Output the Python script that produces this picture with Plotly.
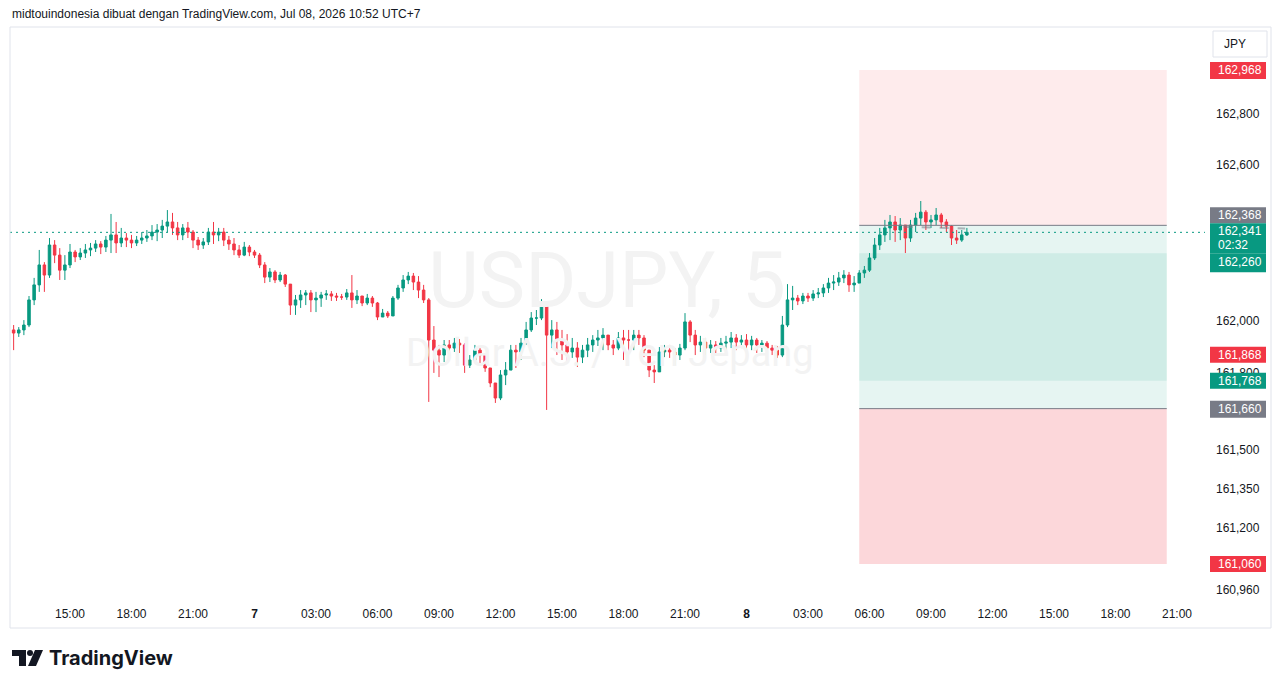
import pandas as pd
import plotly.graph_objects as go

# ---------------- data (USDJPY, 15-minute candles) ----------------
first_open = 161.964
closes = [161.952,161.964,161.983,162.080,162.138,162.215,162.176,162.292,162.253,162.195,
          162.215,162.265,162.246,162.261,162.273,162.280,162.296,162.284,162.311,162.331,
          162.300,162.319,162.311,162.300,162.311,162.319,162.327,162.342,162.350,162.365,
          162.381,162.358,162.331,162.358,162.342,162.311,162.292,162.304,162.342,162.331,
          162.342,162.311,162.296,162.273,162.253,162.284,162.265,162.253,162.215,162.168,
          162.188,162.157,162.176,162.141,162.060,162.080,162.099,162.107,162.080,162.087,
          162.099,162.103,162.095,162.091,162.091,162.107,162.080,162.095,162.068,162.087,
          162.068,162.014,162.029,162.018,162.087,162.126,162.157,162.172,162.149,162.118,
          162.080,161.925,161.886,161.867,161.906,161.894,161.913,161.906,161.828,161.848,
          161.886,161.867,161.817,161.759,161.701,161.790,161.809,161.886,161.879,161.913,
          161.964,162.010,162.010,162.060,161.944,161.964,161.925,161.906,161.879,161.894,
          161.859,161.886,161.906,161.925,161.933,161.944,161.906,161.894,161.933,161.925,
          161.925,161.944,161.933,161.886,161.809,161.802,161.879,161.886,161.879,161.867,
          161.894,161.995,161.944,161.906,161.917,161.894,161.906,161.894,161.913,161.917,
          161.933,161.917,161.925,161.906,161.925,161.906,161.913,161.894,161.886,161.867,
          161.983,162.080,162.087,162.076,162.095,162.087,162.103,162.107,162.126,162.145,
          162.149,162.165,162.176,162.138,162.145,162.184,162.195,162.242,162.292,162.331,
          162.358,162.381,162.350,162.369,162.319,162.369,162.396,162.419,162.381,162.389,
          162.408,162.381,162.365,162.319,162.311,162.331,162.341]
highs = [161.983,161.975,162.002,162.095,162.165,162.273,162.226,162.319,162.311,162.280,
         162.253,162.296,162.273,162.280,162.296,162.300,162.311,162.307,162.327,162.412,
         162.381,162.358,162.338,162.331,162.327,162.342,162.350,162.369,162.373,162.389,
         162.427,162.416,162.381,162.373,162.381,162.350,162.323,162.319,162.358,162.381,
         162.358,162.358,162.327,162.319,162.292,162.304,162.292,162.273,162.261,162.226,
         162.203,162.195,162.188,162.180,162.138,162.099,162.118,162.118,162.118,162.111,
         162.111,162.118,162.114,162.107,162.103,162.122,162.176,162.118,162.087,162.103,
         162.095,162.072,162.045,162.037,162.095,162.138,162.176,162.188,162.184,162.172,
         162.138,162.087,161.979,161.906,161.925,161.925,161.933,161.929,161.913,161.867,
         161.906,161.894,161.867,161.817,161.751,161.809,161.840,161.906,161.906,161.933,
         161.995,162.033,162.041,162.083,162.072,162.002,161.995,161.964,161.948,161.933,
         161.917,161.906,161.933,161.944,161.964,161.971,161.944,161.925,161.956,161.964,
         161.964,161.964,161.964,161.944,161.886,161.828,161.898,161.906,161.906,161.894,
         161.910,162.029,162.002,161.964,161.941,161.933,161.925,161.921,161.933,161.941,
         161.956,161.948,161.944,161.948,161.941,161.933,161.925,161.921,161.906,161.902,
         162.018,162.141,162.134,162.099,162.107,162.107,162.118,162.126,162.141,162.165,
         162.176,162.188,162.195,162.188,162.172,162.195,162.211,162.261,162.319,162.358,
         162.389,162.408,162.404,162.396,162.369,162.389,162.416,162.462,162.427,162.408,
         162.435,162.416,162.392,162.369,162.350,162.350,162.358]
lows = [161.886,161.937,161.944,161.975,162.060,162.111,162.111,162.165,162.222,162.157,
        162.157,162.203,162.226,162.234,162.242,162.249,162.265,162.257,162.265,162.261,
        162.261,162.284,162.284,162.280,162.288,162.296,162.304,162.311,162.307,162.319,
        162.342,162.331,162.311,162.311,162.319,162.280,162.273,162.277,162.292,162.296,
        162.307,162.288,162.273,162.253,162.242,162.249,162.249,162.242,162.203,162.145,
        162.149,162.145,162.149,162.130,162.022,162.022,162.049,162.060,162.033,162.033,
        162.053,162.080,162.076,162.076,162.080,162.080,162.049,162.064,162.056,162.060,
        162.053,162.002,162.014,162.010,162.018,162.080,162.111,162.141,162.118,162.087,
        162.068,161.686,161.798,161.782,161.840,161.863,161.879,161.875,161.798,161.817,
        161.840,161.828,161.802,161.743,161.682,161.693,161.751,161.809,161.817,161.848,
        161.906,161.956,161.983,162.002,161.655,161.894,161.867,161.848,161.840,161.856,
        161.821,161.836,161.859,161.879,161.902,161.886,161.886,161.867,161.886,161.848,
        161.879,161.886,161.906,161.859,161.782,161.759,161.802,161.859,161.856,161.828,
        161.848,161.886,161.917,161.867,161.879,161.867,161.875,161.875,161.879,161.886,
        161.894,161.886,161.894,161.886,161.886,161.875,161.879,161.875,161.867,161.856,
        161.859,161.975,162.041,162.060,162.064,162.072,162.076,162.087,162.091,162.107,
        162.118,162.134,162.145,162.111,162.111,162.149,162.165,162.188,162.234,162.273,
        162.304,162.311,162.304,162.311,162.261,162.304,162.342,162.369,162.350,162.358,
        162.369,162.358,162.342,162.292,162.296,162.304,162.327]
opens = [first_open] + closes[:-1]
highs = [max(h, o, c) for h, o, c in zip(highs, opens, closes)]
lows = [min(l, o, c) for l, o, c in zip(lows, opens, closes)]
times = pd.date_range("2026-07-06 12:15", periods=len(closes), freq="15min")

# time axis
tick_times = pd.date_range("2026-07-06 15:00", "2026-07-08 21:00", freq="3h")
tick_texts = ["15:00", "18:00", "21:00", "<b>7</b>", "03:00", "06:00", "09:00", "12:00",
              "15:00", "18:00", "21:00", "<b>8</b>", "03:00", "06:00", "09:00", "12:00",
              "15:00", "18:00", "21:00"]
# price axis (ticks hidden behind the price labels are left out)
price_ticks = [162.800, 162.600, 162.000, 161.800, 161.500, 161.350, 161.200, 160.960]

# position tools (short on top, long below)
tool_start, tool_end = "2026-07-08 05:30", "2026-07-08 20:30"
short_stop, short_entry, short_target = 162.968, 162.368, 161.768
long_target, long_entry, long_stop = 162.260, 161.660, 161.060
alert_level = 161.868
last_price = closes[-1]
countdown = "02:32"

UP, DOWN, GRAY = "#089981", "#f23645", "#787b86"

# ---------------- pixel helpers for page furniture ----------------
W, H = 1281, 688
L, R, T, B = 10, 1205, 28, 600
def px(x):
    return (x - L) / (R - L)
def py(y):
    return (B - y) / (B - T)

x_left = pd.Timestamp("2026-07-06 15:00") - pd.Timedelta(hours=60 / 20.5)
x_right = pd.Timestamp("2026-07-06 15:00") + pd.Timedelta(hours=(R - 70) / 20.5)
y_low = 162.968 - (B - 70) / 258.9
y_high = 162.968 + (70 - T) / 258.9

def fmt(v):
    return f"{v:.3f}".replace(".", ",")

fig = go.Figure()

# watermark (drawn below candles)
fig.add_trace(go.Scatter(
    x=[pd.Timestamp("2026-07-07 17:12"), pd.Timestamp("2026-07-07 17:20")],
    y=[162.126, 161.863], mode="text",
    text=["USDJPY, 5", "Dollar A.S. / Yen Jepang"],
    textfont=dict(size=[78, 38], color="#f3f3f3", family="Roboto"),
    hoverinfo="skip", cliponaxis=False, showlegend=False))

fig.add_trace(go.Candlestick(
    x=times, open=opens, high=highs, low=lows, close=closes,
    increasing=dict(line=dict(color=UP, width=1), fillcolor=UP),
    decreasing=dict(line=dict(color=DOWN, width=1), fillcolor=DOWN),
    whiskerwidth=0, hoverinfo="skip", showlegend=False))

shapes = []
def zone(y0, y1, color):
    shapes.append(dict(type="rect", xref="x", yref="y", x0=tool_start, x1=tool_end,
                       y0=y0, y1=y1, fillcolor=color, line=dict(width=0), layer="below"))
zone(short_entry, short_stop, "rgba(242,54,69,0.10)")
zone(short_target, short_entry, "rgba(8,153,129,0.10)")
zone(long_entry, long_target, "rgba(8,153,129,0.10)")
zone(long_stop, long_entry, "rgba(242,54,69,0.20)")
for lvl in (short_entry, long_entry):
    shapes.append(dict(type="line", xref="x", yref="y", x0=tool_start, x1=tool_end,
                       y0=lvl, y1=lvl, line=dict(color=GRAY, width=1)))
shapes.append(dict(type="line", xref="x", yref="y", x0="2026-07-08 07:40", x1="2026-07-08 10:40",
                   y0=162.362, y1=162.356, line=dict(color="rgba(120,123,134,0.55)", width=2, dash="dash")))
# last price dotted line
shapes.append(dict(type="line", xref="paper", yref="y", x0=0, x1=1, y0=last_price, y1=last_price,
                   line=dict(color=UP, width=1, dash="2px,4px")))
# chart frame
shapes.append(dict(type="rect", xref="paper", yref="paper", x0=px(10), x1=px(1271),
                   y0=py(628), y1=py(27), line=dict(color="#e0e3eb", width=1),
                   fillcolor="rgba(0,0,0,0)", layer="above"))
# JPY button
shapes.append(dict(type="rect", xref="paper", yref="paper", x0=px(1213), x1=px(1267),
                   y0=py(57), y1=py(31), line=dict(color="#e0e3eb", width=1),
                   fillcolor="white", layer="above"))

annotations = []
# price labels on the axis: (price, colour, box pixel offsets, text lines with y shifts)
labels = [
    (short_stop, DOWN, (-9, 8), [(fmt(short_stop), 0)]),
    (short_entry, GRAY, (2, 18), [(fmt(short_entry), 10)]),
    (last_price, UP, (-21, 9), [(fmt(last_price), 1), (countdown, -13)]),
    (long_target, UP, (-19, 0), [(fmt(long_target), -9)]),
    (alert_level, DOWN, (-8, 8), [(fmt(alert_level), 0)]),
    (short_target, UP, (-8, 8), [(fmt(short_target), 0)]),
    (long_entry, GRAY, (-9, 8), [(fmt(long_entry), 0)]),
    (long_stop, DOWN, (-8, 8), [(fmt(long_stop), 0)]),
]
for price, col, (o0, o1), lines in labels:
    shapes.append(dict(type="rect", xref="paper", yref="y", ysizemode="pixel", yanchor=price,
                       x0=px(1210), x1=px(1266), y0=o0, y1=o1, fillcolor=col,
                       line=dict(width=0), layer="above"))
    for txt, sh in lines:
        annotations.append(dict(xref="paper", yref="y", x=px(1216), y=price, yshift=sh,
                                text=txt, showarrow=False, xanchor="left", yanchor="middle",
                                font=dict(color="white", size=12, family="Liberation Sans")))

annotations.append(dict(xref="paper", yref="paper", x=px(1222), y=py(44), text="JPY",
                        showarrow=False, xanchor="left", yanchor="middle",
                        font=dict(color="#131722", size=12, family="Liberation Sans")))
annotations.append(dict(xref="paper", yref="paper", x=px(10), y=py(14),
                        text="midtouindonesia dibuat dengan TradingView.com, Jul 08, 2026 10:52 UTC+7",
                        showarrow=False, xanchor="left", yanchor="middle",
                        font=dict(color="#131722", size=12, family="Liberation Sans")))
annotations.append(dict(xref="paper", yref="paper", x=px(47), y=py(658), text="<b>TradingView</b>",
                        showarrow=False, xanchor="left", yanchor="middle",
                        font=dict(color="#131722", size=20, family="Inter")))
# TradingView logo mark
shapes.append(dict(type="rect", xref="paper", yref="paper", x0=px(12), x1=px(26), y0=py(656), y1=py(650),
                   fillcolor="#131722", line=dict(width=0)))
shapes.append(dict(type="rect", xref="paper", yref="paper", x0=px(19), x1=px(26), y0=py(666), y1=py(650),
                   fillcolor="#131722", line=dict(width=0)))
shapes.append(dict(type="circle", xref="paper", yref="paper", x0=px(27), x1=px(33), y0=py(656), y1=py(650),
                   fillcolor="#131722", line=dict(width=0)))
shapes.append(dict(type="path", xref="paper", yref="paper",
                   path=f"M {px(35)},{py(650)} L {px(43)},{py(650)} L {px(36)},{py(666)} L {px(28)},{py(666)} Z",
                   fillcolor="#131722", line=dict(width=0)))

fig.update_layout(
    width=W, height=H, margin=dict(l=L, r=W - R, t=T, b=H - B),
    paper_bgcolor="white", plot_bgcolor="white", showlegend=False,
    boxgap=0.3, shapes=shapes, annotations=annotations,
    font=dict(family="Liberation Sans", color="#131722", size=12),
    xaxis=dict(type="date", range=[x_left, x_right], rangeslider=dict(visible=False),
               tickvals=list(tick_times), ticktext=tick_texts, showgrid=False, zeroline=False,
               showline=False, ticks="", ticklabelstandoff=5,
               tickfont=dict(size=12, color="#131722")),
    yaxis=dict(side="right", range=[y_low, y_high], tickvals=price_ticks,
               ticktext=[fmt(v) for v in price_ticks], showgrid=False, zeroline=False,
               showline=False, ticks="", ticklabelstandoff=10,
               tickfont=dict(size=12, color="#131722")),
)

fig.write_html("out.html")
